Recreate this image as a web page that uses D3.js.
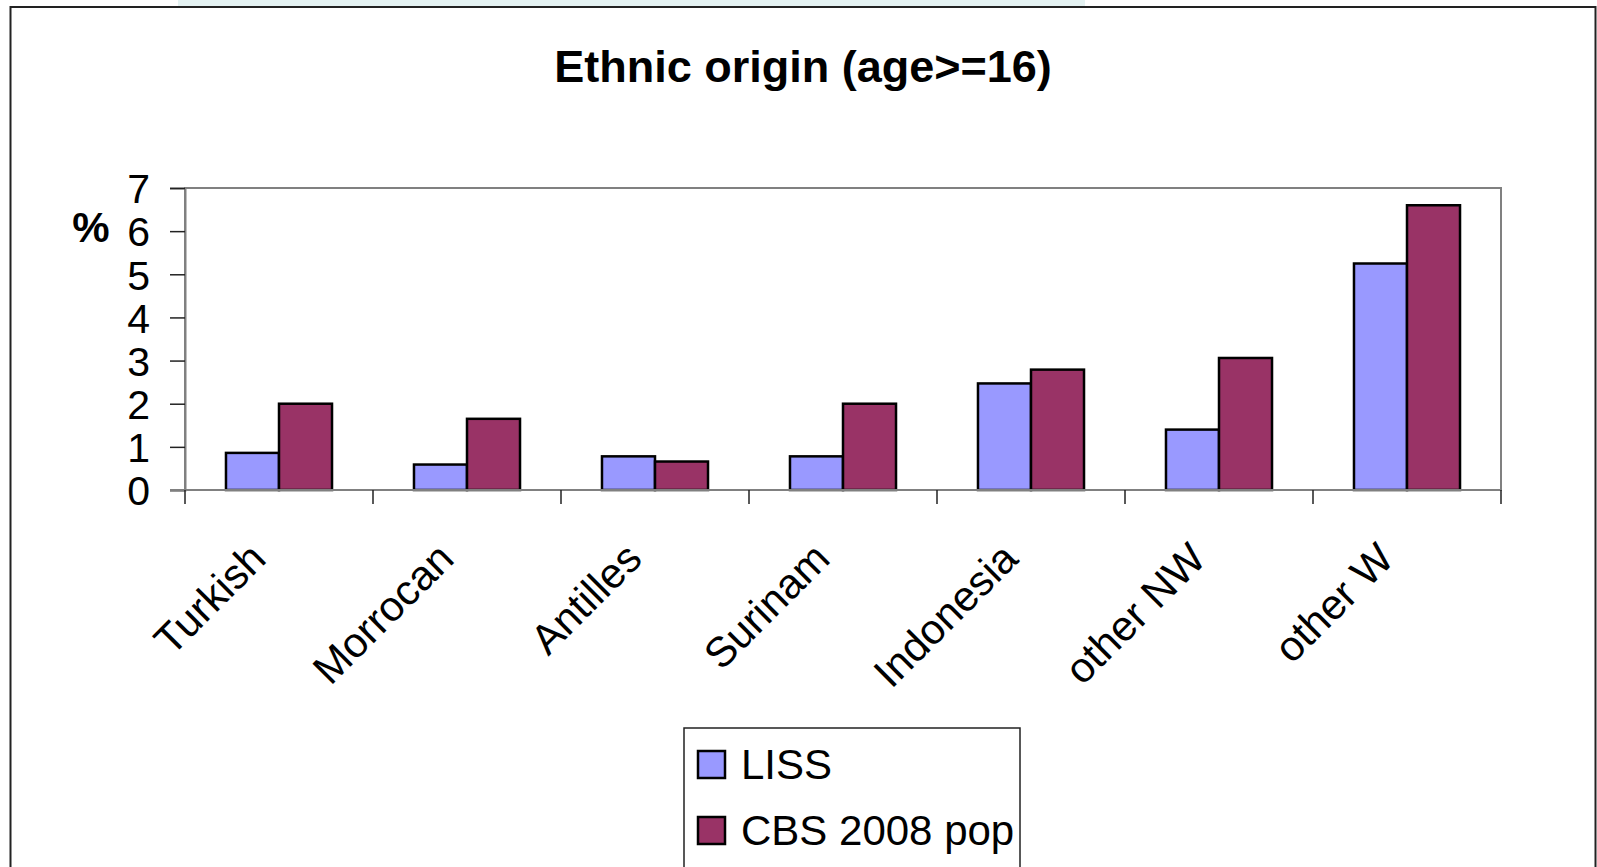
<!DOCTYPE html>
<html>
<head>
<meta charset="utf-8">
<script src="https://cdn.jsdelivr.net/npm/d3@7"></script>
<style>
  body { margin: 0; background: #fff; }
  svg { display: block; font-family: "Liberation Sans", Arial, sans-serif; }
</style>
</head>
<body>
<div id="chart"></div>
<script>
// data
const categories = ["Turkish", "Morrocan", "Antilles", "Surinam", "Indonesia", "other NW", "other W"];
const series = ["LISS", "CBS 2008 pop"];
const lissValues = [0.86, 0.59, 0.78, 0.78, 2.47, 1.40, 5.25];
const cbsValues = [2.0, 1.65, 0.66, 2.0, 2.79, 3.06, 6.6];
const yTicks = [0, 1, 2, 3, 4, 5, 6, 7];

const colors = { "LISS": "#9999ff", "CBS 2008 pop": "#993366" };

const width = 1597;
const height = 867;
const plot = { left: 185, right: 1501, top: 188, bottom: 490 };

const svg = d3.select("#chart")
  .append("svg")
  .attr("width", width)
  .attr("height", height);

// faint band above the frame
svg.append("rect")
  .attr("x", 178).attr("y", 0)
  .attr("width", 907).attr("height", 7)
  .attr("fill", "#e4f2f2");

// outer frame
svg.append("rect")
  .attr("x", 10.5).attr("y", 7)
  .attr("width", 1585).attr("height", 880)
  .attr("fill", "none")
  .attr("stroke", "#222")
  .attr("stroke-width", 2);

svg.append("text")
  .attr("x", 803).attr("y", 82)
  .attr("text-anchor", "middle")
  .attr("font-size", 45)
  .attr("font-weight", "bold")
  .text("Ethnic origin (age>=16)");

const x0 = d3.scaleBand().domain(categories).range([plot.left, plot.right]);
const x1 = d3.scaleBand().domain(series)
  .range([x0.bandwidth() * 0.218, x0.bandwidth() * 0.782]);
const y = d3.scaleLinear().domain([0, 7]).range([plot.bottom, plot.top]);

// plot area border (grey)
svg.append("rect")
  .attr("x", plot.left).attr("y", plot.top)
  .attr("width", plot.right - plot.left)
  .attr("height", plot.bottom - plot.top)
  .attr("fill", "none")
  .attr("stroke", "#808080")
  .attr("stroke-width", 2);

// bars
const rows = categories.map((c, i) => ({ cat: c, vals: [
  { key: "LISS", value: lissValues[i] },
  { key: "CBS 2008 pop", value: cbsValues[i] }
]}));

svg.append("g")
  .selectAll("g")
  .data(rows)
  .join("g")
  .attr("transform", d => `translate(${x0(d.cat)},0)`)
  .selectAll("rect")
  .data(d => d.vals)
  .join("rect")
  .attr("x", d => x1(d.key))
  .attr("y", d => y(d.value))
  .attr("width", x1.bandwidth())
  .attr("height", d => y(0) - y(d.value))
  .attr("fill", d => colors[d.key])
  .attr("stroke", "#000")
  .attr("stroke-width", 2.5);

// y axis
const yAxis = svg.append("g")
  .attr("transform", `translate(${plot.left},0)`)
  .call(d3.axisLeft(y).tickValues(yTicks).tickFormat(d3.format("d")).tickSize(15).tickPadding(20));
yAxis.select(".domain").attr("stroke", "#808080").attr("stroke-width", 2);
yAxis.selectAll(".tick line").attr("stroke", "#222").attr("stroke-width", 1.5);
yAxis.selectAll(".tick text")
  .attr("font-size", 41)
  .attr("fill", "#000")
  .attr("font-family", "Liberation Sans, Arial, sans-serif")
  .attr("dy", "0.36em");

svg.append("text")
  .attr("x", 91).attr("y", 242)
  .attr("text-anchor", "middle")
  .attr("font-size", 42)
  .attr("font-weight", "bold")
  .text("%");

// x axis: zero line and category separator ticks
svg.append("line")
  .attr("x1", plot.left - 15).attr("x2", plot.right)
  .attr("y1", y(0)).attr("y2", y(0))
  .attr("stroke", "#808080").attr("stroke-width", 2);

const boundaries = categories.map(c => x0(c)).concat([plot.right]);
svg.append("g")
  .selectAll("line")
  .data(boundaries)
  .join("line")
  .attr("x1", d => d).attr("x2", d => d)
  .attr("y1", y(0)).attr("y2", y(0) + 14)
  .attr("stroke", "#222").attr("stroke-width", 1.5);

svg.append("g")
  .selectAll("text")
  .data(categories)
  .join("text")
  .attr("transform", d => `translate(${x0(d) + x0.bandwidth() / 2 - 11},561) rotate(-45)`)
  .attr("text-anchor", "end")
  .attr("font-size", 42)
  .text(d => d);

// legend
const legend = svg.append("g");
legend.append("rect")
  .attr("x", 684).attr("y", 728)
  .attr("width", 336).attr("height", 145)
  .attr("fill", "#fff")
  .attr("stroke", "#222")
  .attr("stroke-width", 1.5);

const items = legend.selectAll("g.item")
  .data(series)
  .join("g")
  .attr("class", "item")
  .attr("transform", (d, i) => `translate(698,${751 + i * 66})`);

items.append("rect")
  .attr("width", 27).attr("height", 27)
  .attr("fill", d => colors[d])
  .attr("stroke", "#000")
  .attr("stroke-width", 2.5);

items.append("text")
  .attr("x", 43).attr("y", 28)
  .attr("font-size", 42)
  .text(d => d);
</script>
</body>
</html>
